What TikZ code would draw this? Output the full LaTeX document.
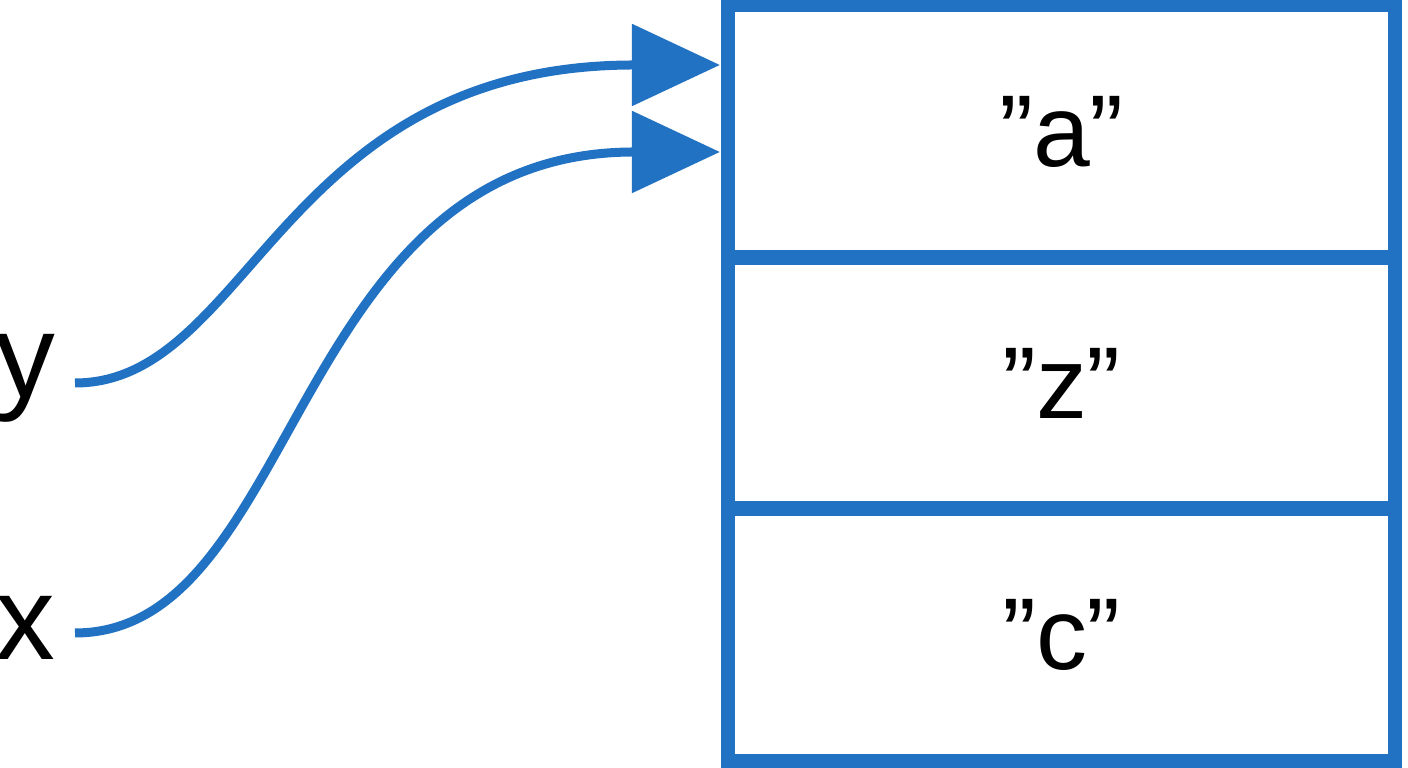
\documentclass[tikz,border=0pt]{standalone}
\usepackage{fontspec}
\setmainfont{Liberation Sans}[Ligatures=ResetAll]
\usetikzlibrary{arrows.meta}
\definecolor{myblue}{HTML}{2272C3}
\newcommand{\qq}[1]{"#1"}
\begin{document}
\begin{tikzpicture}[x=0.01cm,y=-0.01cm,
  cell/.style={draw=myblue,line width=0.14cm,minimum width=6.67cm,minimum height=2.52cm,inner sep=0pt,font=\fontsize{29}{32}\selectfont},
  lbl/.style={font=\fontsize{34}{36}\selectfont,inner sep=0pt},
  ptr/.style={draw=myblue,line width=0.09cm,-{Triangle[length=0.88cm,width=0.8cm]}}]
\useasboundingbox (0,0) rectangle (1408,768);
\node[cell] (a) at (1061.5,131.5) {\qq{a}};
\node[cell] (z) at (1061.5,383) {\qq{z}};
\node[cell] (c) at (1061.5,634.5) {\qq{c}};
\node[lbl] (y) at (25,378) {y};
\node[lbl] (x) at (25,628) {x};
\coordinate (ys) at (75,383);
\coordinate (xs) at (75,633);
\coordinate (ye) at (720,65);
\coordinate (xe) at (720,152);
\draw[ptr] (ys) .. controls (250,383) and (280,65) .. (ye);
\draw[ptr] (xs) .. controls (300,633) and (290,152) .. (xe);
\end{tikzpicture}
\end{document}
